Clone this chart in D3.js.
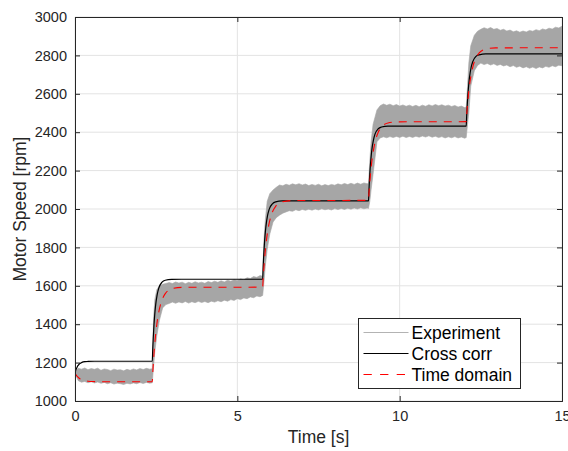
<!DOCTYPE html>
<html>
<head>
<meta charset="utf-8">
<script src="https://cdn.jsdelivr.net/npm/d3@7"></script>
<style>
  html, body { margin: 0; padding: 0; background: #fff; }
  svg { display: block; font-family: "Liberation Sans", Arial, Helvetica, sans-serif; }
</style>
</head>
<body>
<svg id="chart" width="568" height="451"></svg>
<script>
// Measured motor speed: envelope of the fast ripple (upper / lower edge) [rpm]
const expTime = [
  0,0.1,0.2,0.3,0.4,0.5,0.6,0.7,0.8,0.9,1.0,1.1,1.2,1.3,1.4,1.5,1.6,1.7,1.8,1.9,2.0,2.1,2.2,2.3,2.38,
  2.42,2.46,2.52,2.6,2.7,2.8,
  2.9,3.0,3.1,3.2,3.3,3.4,3.5,3.6,3.7,3.8,3.9,4.0,4.1,4.2,4.3,4.4,4.5,4.6,4.7,4.8,4.9,5.0,5.1,5.2,5.3,5.4,5.5,5.6,5.7,5.78,
  5.82,5.86,5.92,
  6.0,6.1,6.2,6.3,6.4,6.5,6.6,6.7,6.8,6.9,7.0,7.1,7.2,7.3,7.4,7.5,7.6,7.7,7.8,7.9,8.0,8.1,8.2,8.3,8.4,8.5,8.6,8.7,8.8,8.9,9.0,9.04,
  9.08,9.12,9.18,
  9.3,9.4,9.5,9.6,9.7,9.8,9.9,10.0,10.1,10.2,10.3,10.4,10.5,10.6,10.7,10.8,10.9,11.0,11.1,11.2,11.3,11.4,11.5,11.6,11.7,11.8,11.9,12.0,12.05,
  12.09,12.13,12.19,12.3,12.4,
  12.5,12.6,12.7,12.8,12.9,13.0,13.1,13.2,13.3,13.4,13.5,13.6,13.7,13.8,13.9,14.0,14.1,14.2,14.3,14.4,14.5,14.6,14.7,14.8,14.9,15.0
];
const expUpper = [
  1146,1170,1166,1172,1163,1169,1165,1171,1160,1167,1164,1158,1166,1161,1163,1157,1165,1160,1167,1162,1169,1164,1170,1166,1168,
  1430,1530,1580,1600,1608,1612,
  1617,1612,1620,1614,1619,1611,1618,1613,1621,1615,1619,1613,1622,1617,1624,1618,1626,1620,1629,1624,1632,1627,1636,1631,1642,1638,1648,1644,1653,1650,
  1840,1940,2040,
  2080,2099,2113,2125,2121,2129,2124,2131,2126,2132,2125,2130,2122,2128,2123,2129,2121,2127,2122,2128,2124,2131,2126,2133,2127,2134,2128,2135,2129,2136,2131,2134,
  2250,2350,2440,
  2516,2538,2547,2540,2546,2538,2544,2536,2542,2535,2541,2534,2540,2533,2541,2535,2543,2537,2544,2538,2543,2536,2541,2534,2539,2531,2536,2528,2530,
  2640,2760,2850,2905,2926,
  2936,2944,2938,2945,2936,2940,2931,2936,2927,2932,2923,2928,2921,2927,2922,2930,2926,2934,2929,2938,2933,2942,2937,2947,2943,2952
];
const expLower = [
  1142,1106,1098,1102,1095,1100,1094,1099,1092,1097,1090,1095,1088,1093,1090,1086,1092,1089,1094,1090,1096,1091,1097,1093,1095,
  1180,1260,1340,1420,1485,1502,
  1508,1515,1509,1516,1511,1518,1510,1517,1512,1519,1513,1518,1512,1520,1515,1522,1517,1525,1520,1528,1524,1533,1528,1537,1533,1542,1538,1547,1543,1550,
  1620,1700,1790,
  1870,1932,1955,1968,1978,1985,1991,1988,1996,1991,1998,1993,1999,1994,2000,1995,2001,1996,2000,1995,2002,1997,2003,1998,2004,1999,2005,2000,2006,2001,2005,2003,
  2040,2100,2180,
  2350,2370,2376,2371,2377,2372,2378,2373,2379,2372,2378,2373,2379,2374,2380,2375,2381,2374,2379,2372,2377,2370,2376,2371,2377,2370,2375,2369,2372,
  2440,2500,2640,2720,2748,
  2760,2752,2758,2750,2756,2748,2753,2745,2750,2741,2747,2738,2744,2735,2741,2733,2739,2732,2740,2735,2743,2738,2746,2741,2749,2746
];

// Identified model responses [rpm]
const modelTime = [
  0,0.015,0.03,0.05,0.075,0.1,0.15,0.2,0.3,0.4,0.6,0.9,
  2.38,2.395,2.41,2.43,2.455,2.48,2.53,2.58,2.68,2.78,2.98,3.28,
  5.78,5.795,5.81,5.83,5.855,5.88,5.93,5.98,6.08,6.18,6.38,6.68,
  9.04,9.055,9.07,9.09,9.115,9.14,9.19,9.24,9.34,9.44,9.64,9.94,
  12.05,12.065,12.08,12.1,12.125,12.15,12.2,12.25,12.35,12.45,12.65,12.95,
  15
];
const crossCorr = [
  1144,1154,1162,1171,1180,1186,1195,1200,1205,1206,1207,1207,
  1207,1273,1328,1389,1448,1494,1553,1588,1619,1629,1633,1634,
  1634,1697,1750,1808,1865,1908,1965,1998,2027,2037,2042,2042,
  2042,2102,2152,2208,2262,2304,2358,2390,2418,2427,2432,2432,
  2432,2490,2538,2592,2644,2684,2737,2767,2795,2803,2808,2808,
  2808
];
const timeDomain = [
  1144,1140,1136,1132,1127,1123,1116,1112,1106,1103,1101,1100,
  1100,1147,1189,1240,1294,1340,1412,1463,1526,1559,1584,1592,
  1593,1636,1675,1721,1771,1813,1879,1926,1984,2014,2037,2044,
  2045,2084,2119,2161,2206,2245,2304,2347,2400,2427,2448,2454,
  2455,2492,2525,2564,2606,2643,2698,2738,2788,2813,2833,2839,
  2840
];

const xTicks = [0, 5, 10, 15];
const yTicks = [1000, 1200, 1400, 1600, 1800, 2000, 2200, 2400, 2600, 2800, 3000];
const legendLabels = ["Experiment", "Cross corr", "Time domain"];

const svg = d3.select("#chart");
const m = { left: 75, right: 568 - 562, top: 17, bottom: 451 - 401 };
const W = 568, H = 451;
const x = d3.scaleLinear().domain([0, 15]).range([m.left, W - m.right]);
const y = d3.scaleLinear().domain([1000, 3000]).range([H - m.bottom, m.top]);
const axisColor = "#262626";

// grid
const grid = svg.append("g");
grid.selectAll("line.gx").data(xTicks).enter().append("line")
  .attr("x1", d => x(d)).attr("x2", d => x(d))
  .attr("y1", y(1000)).attr("y2", y(3000))
  .attr("stroke", "#e3e3e3").attr("stroke-width", 1);
grid.selectAll("line.gy").data(yTicks).enter().append("line")
  .attr("x1", x(0)).attr("x2", x(15))
  .attr("y1", d => y(d)).attr("y2", d => y(d))
  .attr("stroke", "#e3e3e3").attr("stroke-width", 1);

svg.append("clipPath").attr("id", "plotclip").append("rect")
  .attr("x", x(0)).attr("y", y(3000)).attr("width", x(15) - x(0)).attr("height", y(1000) - y(3000));
const plot = svg.append("g").attr("clip-path", "url(#plotclip)");

// experiment ripple band
const band = expTime.map((t, i) => ({ t, hi: expUpper[i], lo: expLower[i] }));
plot.append("path").datum(band)
  .attr("d", d3.area().x(d => x(d.t)).y0(d => y(d.lo)).y1(d => y(d.hi)).curve(d3.curveLinear))
  .attr("fill", "#a6a6a6").attr("stroke", "#a6a6a6").attr("stroke-width", 0.6);

const model = modelTime.map((t, i) => ({ t, cc: crossCorr[i], td: timeDomain[i] }));
plot.append("path").datum(model)
  .attr("d", d3.line().x(d => x(d.t)).y(d => y(d.cc)).curve(d3.curveMonotoneX))
  .attr("fill", "none").attr("stroke", "#000").attr("stroke-width", 1.2);
plot.append("path").datum(model)
  .attr("d", d3.line().x(d => x(d.t)).y(d => y(d.td)).curve(d3.curveMonotoneX))
  .attr("fill", "none").attr("stroke", "#ff0000").attr("stroke-width", 1.1)
  .attr("stroke-dasharray", "8,7");

// axes (box with inward ticks)
const tickLen = 5;
const ax = svg.append("g");
const bottomAxis = d3.axisBottom(x).tickValues(xTicks).tickSize(-tickLen).tickPadding(10).tickFormat(d3.format("d"));
const topAxis = d3.axisTop(x).tickValues(xTicks).tickSize(-tickLen).tickFormat("");
const leftAxis = d3.axisLeft(y).tickValues(yTicks).tickSize(-tickLen).tickPadding(8).tickFormat(d3.format("d"));
const rightAxis = d3.axisRight(y).tickValues(yTicks).tickSize(-tickLen).tickFormat("");

function style(g) {
  g.select(".domain").attr("stroke", axisColor).attr("stroke-width", 1);
  g.selectAll(".tick line").attr("stroke", axisColor).attr("stroke-width", 1);
  g.selectAll(".tick text").attr("fill", axisColor).style("font-size", "14.5px")
    .style("font-family", "'Liberation Sans', Arial, sans-serif");
}
ax.append("g").attr("transform", `translate(0,${y(1000)})`).call(bottomAxis).call(style);
ax.append("g").attr("transform", `translate(0,${y(3000)})`).call(topAxis).call(style);
ax.append("g").attr("transform", `translate(${x(0)},0)`).call(leftAxis).call(style);
ax.append("g").attr("transform", `translate(${x(15)},0)`).call(rightAxis).call(style);
ax.selectAll(".domain").attr("d", function () { return d3.select(this).attr("d").replace(/M([^V H]*)V/, "M$1V"); });

// axis titles
svg.append("text")
  .attr("x", (x(0) + x(15)) / 2).attr("y", 443)
  .attr("text-anchor", "middle").attr("fill", axisColor)
  .style("font-size", "17.5px").text("Time [s]");
svg.append("text")
  .attr("transform", `translate(26,${(y(1000) + y(3000)) / 2}) rotate(-90)`)
  .attr("text-anchor", "middle").attr("fill", axisColor)
  .style("font-size", "17.5px").text("Motor Speed [rpm]");

// legend
const lg = svg.append("g").attr("transform", "translate(358.5,318.5)");
lg.append("rect").attr("width", 162).attr("height", 70)
  .attr("fill", "#fff").attr("stroke", axisColor).attr("stroke-width", 1);
const legendStyles = [
  { stroke: "#a0a0a0", width: 0.8, dash: null },
  { stroke: "#000", width: 1.2, dash: null },
  { stroke: "#ff0000", width: 1.1, dash: "8.3,8.3" }
];
legendLabels.forEach((lab, i) => {
  const cy = 14 + i * 21;
  const s = legendStyles[i];
  lg.append("line").attr("x1", 5).attr("x2", 50).attr("y1", cy).attr("y2", cy)
    .attr("stroke", s.stroke).attr("stroke-width", s.width)
    .attr("stroke-dasharray", s.dash);
  lg.append("text").attr("x", 53).attr("y", cy).attr("dy", "0.36em")
    .attr("fill", "#000").style("font-size", "17.5px").text(lab);
});
</script>
</body>
</html>
